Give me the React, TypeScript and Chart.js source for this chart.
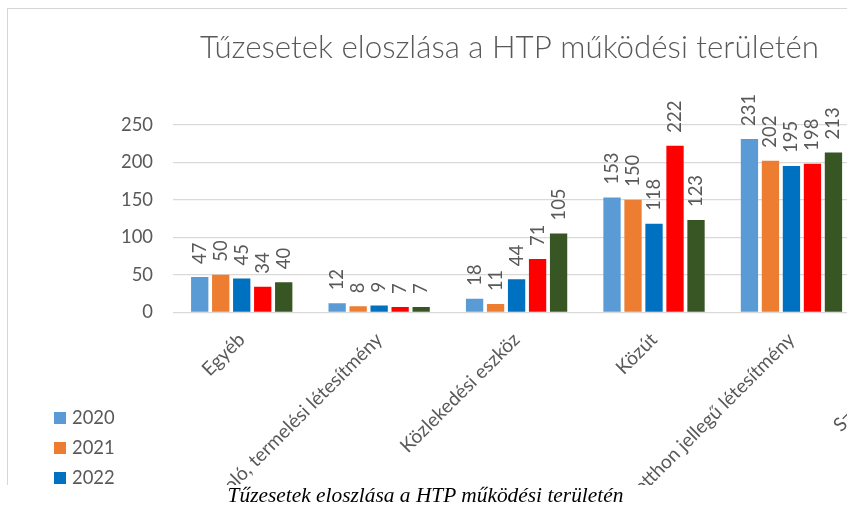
import React, { useEffect, useRef } from "react";
import { Chart, registerables } from "chart.js";

Chart.register(...registerables);

const titleText = "Tűzesetek eloszlása a HTP működési területén";
const captionText = "Tűzesetek eloszlása a HTP működési területén";

const categories = [
  "Egyéb",
  "Ipari, mezőgazdasági, tároló, termelési létesítmény",
  "Közlekedési eszköz",
  "Közút",
  "Lakás, otthon jellegű létesítmény",
  "Szabadtér, erdő",
];

const seriesLabels = ["2020", "2021", "2022", "2023", "2024"];
const values2020 = [47, 12, 18, 153, 231, null];
const values2021 = [50, 8, 11, 150, 202, null];
const values2022 = [45, 9, 44, 118, 195, null];
const values2023 = [34, 7, 71, 222, 198, null];
const values2024 = [40, 7, 105, 123, 213, null];
const seriesColors = ["#5B9BD5", "#ED7D31", "#0070C0", "#FF0000", "#375623"];

const yMin = 0;
const yMax = 250;
const yStep = 50;

const TEXT = "#595959";
const FONT = "Lato";
const CANVAS_W = 1003;
const CANVAS_H = 640;

const valueLabels = {
  id: "valueLabels",
  afterDatasetsDraw(chart: any, _args: any, opts: any) {
    const ctx = chart.ctx;
    ctx.save();
    ctx.font = `${opts.size}px ${FONT}`;
    ctx.fillStyle = opts.color;
    chart.data.datasets.forEach((ds: any, i: number) => {
      const meta = chart.getDatasetMeta(i);
      meta.data.forEach((bar: any, j: number) => {
        const v = ds.data[j];
        if (v === null || v === undefined) return;
        ctx.save();
        ctx.translate(bar.x, bar.y - opts.offset);
        ctx.rotate(-Math.PI / 2);
        ctx.textAlign = "left";
        ctx.textBaseline = "middle";
        ctx.fillText(String(v), 0, 0);
        ctx.restore();
      });
    });
    ctx.restore();
  },
};

const sideLegend = {
  id: "sideLegend",
  afterDraw(chart: any, _args: any, opts: any) {
    const ctx = chart.ctx;
    ctx.save();
    chart.data.datasets.forEach((ds: any, i: number) => {
      const cy = opts.y + i * opts.gap;
      ctx.fillStyle = ds.backgroundColor;
      ctx.fillRect(opts.x, cy - opts.box / 2, opts.box, opts.box);
      ctx.fillStyle = opts.color;
      ctx.font = `${opts.size}px ${FONT}`;
      ctx.textAlign = "left";
      ctx.textBaseline = "middle";
      ctx.fillText(ds.label, opts.x + opts.box + 6, cy);
    });
    ctx.restore();
  },
};

export default function App() {
  const ref = useRef<HTMLCanvasElement | null>(null);

  useEffect(() => {
    if (!ref.current) return;
    const seriesValues = [values2020, values2021, values2022, values2023, values2024];
    const chart = new Chart(ref.current, {
      type: "bar",
      data: {
        labels: categories,
        datasets: seriesLabels.map((label, i) => ({
          label,
          data: seriesValues[i],
          backgroundColor: seriesColors[i],
          borderWidth: 0,
          categoryPercentage: 0.764,
          barPercentage: 0.824,
        })),
      },
      options: {
        responsive: false,
        animation: false,
        devicePixelRatio: 1,
        layout: { padding: 0 },
        plugins: {
          legend: { display: false },
          tooltip: { enabled: false },
          title: {
            display: true,
            text: titleText,
            color: TEXT,
            font: { family: FONT, size: 31.3, weight: "300", lineHeight: 1.2 },
            padding: { top: 20.2, bottom: 57.9 },
          },
          valueLabels: { size: 18.4, color: TEXT, offset: 13 },
          sideLegend: { x: 46, y: 409, gap: 30, box: 12, size: 18.4, color: TEXT },
        } as any,
        scales: {
          x: {
            grid: { display: false },
            border: { display: false },
            ticks: {
              color: TEXT,
              font: { family: FONT, size: 19.2 },
              minRotation: 45,
              maxRotation: 45,
              autoSkip: false,
              padding: 8,
            },
            afterFit(s: any) {
              s.height = CANVAS_H - 303.3;
            },
          },
          y: {
            min: yMin,
            max: yMax,
            ticks: {
              stepSize: yStep,
              color: TEXT,
              font: { family: FONT, size: 18.4 },
              padding: 20,
            },
            grid: { color: "#d9d9d9", lineWidth: 1.3, drawTicks: false },
            border: { display: false },
            afterFit(s: any) {
              s.width = 165;
            },
          },
          yRight: {
            type: "linear",
            position: "right",
            display: true,
            grid: { display: false, drawTicks: false },
            border: { display: false },
            ticks: { display: false },
            afterFit(s: any) {
              s.width = 13.4;
            },
          },
        } as any,
      },
      plugins: [valueLabels, sideLegend],
    });
    return () => chart.destroy();
  }, []);

  return (
    <div
      style={{
        position: "fixed",
        left: 0,
        top: 0,
        width: 847,
        height: 509,
        overflow: "hidden",
        background: "#fff",
      }}
    >
      <div
        style={{
          position: "absolute",
          left: 7,
          top: 8,
          width: 1100,
          height: 476,
          borderTop: "1px solid #d6d6d6",
          borderLeft: "1px solid #d6d6d6",
          overflow: "hidden",
        }}
      >
        <canvas
          ref={ref}
          width={CANVAS_W}
          height={CANVAS_H}
          style={{ position: "absolute", left: 0, top: 0, width: CANVAS_W, height: CANVAS_H }}
        />
      </div>
      <div
        style={{
          position: "absolute",
          left: 0,
          top: 485,
          width: 851,
          textAlign: "center",
          fontFamily: '"Liberation Serif", serif',
          fontStyle: "italic",
          fontSize: 21.4,
          lineHeight: "21px",
          color: "#000",
          whiteSpace: "nowrap",
        }}
      >
        {captionText}
      </div>
    </div>
  );
}
